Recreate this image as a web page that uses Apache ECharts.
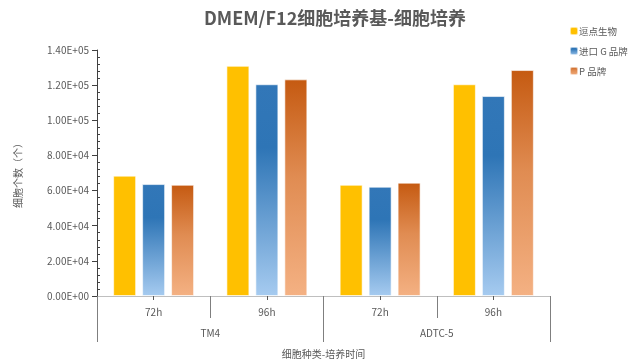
<!DOCTYPE html>
<html>
<head>
<meta charset="utf-8">
<script src="https://cdn.jsdelivr.net/npm/echarts@6/dist/echarts.min.js"></script>
<style>
  html, body { margin: 0; padding: 0; background: #fff; }
  #chart { width: 628px; height: 359px; }
</style>
</head>
<body>
<div id="chart"></div>
<script>
// 数据
const timeLabels = ['72h', '96h', '72h', '96h'];
const cellTypes = ['TM4', 'ADTC-5'];
const seriesNames = ['逗点生物', '进口 G 品牌', 'P 品牌'];
const douDian = [68500, 131000, 63300, 120500];
const importG = [63700, 120500, 62200, 113800];
const brandP = [63300, 123300, 64500, 128600];

const fontFamily = '"Microsoft YaHei", "Noto Sans CJK SC", sans-serif';

function sci(v) {
    const parts = v.toExponential(2).split('e');
    const sign = parts[1][0];
    const digits = parts[1].slice(1).padStart(2, '0');
    return parts[0] + 'E' + sign + digits;
}

let myChart = echarts.init(document.getElementById('chart'));
myChart.setOption({
    animation: false,
    textStyle: { fontFamily: fontFamily },
    title: {
        text: 'DMEM/F12细胞培养基-细胞培养',
        left: 330,
        textAlign: 'center',
        top: 4,
        textStyle: { fontSize: 18, fontWeight: 'bold', color: '#595959' }
    },
    legend: {
        orient: 'vertical',
        left: 564,
        top: 21,
        itemWidth: 8,
        itemHeight: 8,
        itemGap: 10,
        icon: 'roundRect',
        textStyle: { fontSize: 9.5, color: '#595959', padding: [0, 0, 0, -4] },
        data: seriesNames
    },
    grid: { left: 97, right: 78, top: 50, bottom: 63, outerBoundsMode: 'none' },
    xAxis: [
        {
            type: 'category',
            data: timeLabels,
            position: 'bottom',
            axisLine: { lineStyle: { color: '#BFBFBF', width: 1 } },
            axisTick: { show: true, length: 22, lineStyle: { color: '#7F7F7F' } },
            axisLabel: { fontSize: 10, color: '#595959', margin: 11 }
        },
        {
            type: 'category',
            data: cellTypes,
            position: 'bottom',
            axisLine: { show: false },
            axisTick: { show: true, length: 46, lineStyle: { color: '#7F7F7F' } },
            axisLabel: { fontSize: 10, color: '#595959', margin: 32 },
            name: '细胞种类-培养时间',
            nameLocation: 'middle',
            nameGap: 53,
            nameTextStyle: { fontSize: 10, color: '#595959' }
        },
        {
            type: 'category',
            data: timeLabels,
            position: 'bottom',
            axisLine: { show: false },
            axisTick: { show: true, alignWithLabel: true, length: 4, lineStyle: { color: '#595959' } },
            axisLabel: { show: false }
        }
    ],
    yAxis: [
        {
            type: 'value',
            min: 0,
            max: 140000,
            interval: 20000,
            splitLine: { show: false },
            axisLine: { show: true, lineStyle: { color: '#404040' } },
            axisTick: { show: true, length: 5, lineStyle: { color: '#404040' } },
            axisLabel: { fontSize: 10, color: '#595959', margin: 8, formatter: sci },
            name: '细胞个数（个）',
            nameLocation: 'middle',
            nameGap: 74,
            nameTextStyle: { fontSize: 10, color: '#595959' }
        },
        {
            type: 'value',
            min: 0,
            max: 140000,
            interval: 20000,
            position: 'left',
            splitLine: { show: false },
            axisLine: { show: false },
            axisTick: { show: true, inside: true, length: 0 },
            minorTick: { show: true, splitNumber: 5, length: 3, lineStyle: { color: '#404040' } },
            axisLabel: { show: false }
        }
    ],
    series: [
        {
            name: seriesNames[0],
            type: 'bar',
            barWidth: 23,
            barGap: '26%',
            data: douDian,
            itemStyle: { color: '#FFC000', borderColor: 'rgba(255,255,255,0.6)', borderWidth: 1 }
        },
        {
            name: seriesNames[1],
            type: 'bar',
            barWidth: 23,
            data: importG,
            itemStyle: {
                color: {
                    type: 'linear', x: 0, y: 0, x2: 0, y2: 1,
                    colorStops: [
                        { offset: 0, color: '#3277B8' },
                        { offset: 0.3, color: '#2E75B6' },
                        { offset: 1, color: '#A6CBF0' }
                    ]
                },
                borderColor: 'rgba(255,255,255,0.6)', borderWidth: 1
            }
        },
        {
            name: seriesNames[2],
            type: 'bar',
            barWidth: 23,
            data: brandP,
            itemStyle: {
                color: {
                    type: 'linear', x: 0, y: 0, x2: 0, y2: 1,
                    colorStops: [
                        { offset: 0, color: '#C55A11' },
                        { offset: 0.45, color: '#E08C52' },
                        { offset: 1, color: '#F4B183' }
                    ]
                },
                borderColor: 'rgba(255,255,255,0.6)', borderWidth: 1
            }
        }
    ]
});
window.onresize = function () {
    myChart.resize();
};
</script>
</body>
</html>
